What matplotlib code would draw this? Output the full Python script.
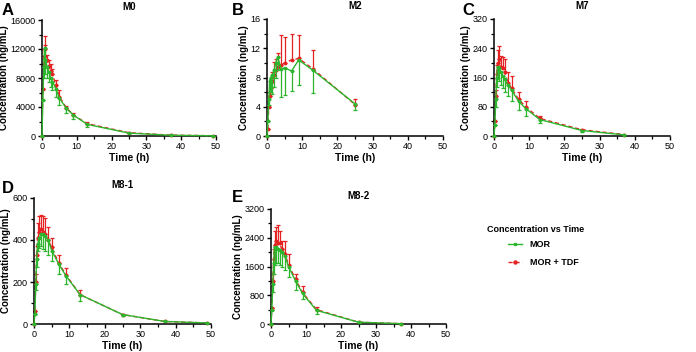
import matplotlib
matplotlib.use("Agg")
import matplotlib.pyplot as plt
from matplotlib.ticker import MultipleLocator
from matplotlib.lines import Line2D
import numpy as np

plt.rcParams['font.family'] = ['Liberation Sans', 'DejaVu Sans']

times = [0, 0.25, 0.5, 0.75, 1, 1.5, 2, 2.5, 3, 4, 5, 7, 9, 13, 25, 37, 49]

# ---- M0 ----
m0_mor = [0, 5000, 9500, 12200, 10500, 9500, 8800, 8000, 7500, 6500, 5200, 3800, 2900, 1600, 400, 100, 30]
m0_mor_sd = [0, 0, 1500, 2500, 2000, 1500, 1400, 1300, 1200, 1100, 900, 600, 500, 300, 0, 0, 0]
m0_tdf = [0, 6500, 10000, 12000, 11000, 10500, 9600, 9000, 8500, 7000, 5400, 3900, 2900, 1700, 450, 120, 40]
m0_tdf_sd = [0, 0, 1000, 1800, 1500, 700, 900, 1000, 800, 700, 900, 300, 300, 200, 0, 0, 0]

# ---- M2 ----
m2_times = [0, 0.25, 0.5, 0.75, 1, 1.5, 2, 2.5, 3, 4, 5, 7, 9, 13, 25]
m2_mor = [0, 2.0, 5.0, 7.5, 8.0, 8.3, 9.0, 10.0, 10.8, 9.2, 9.3, 8.9, 10.4, 9.0, 4.4]
m2_mor_sd = [0, 0, 0.8, 1.5, 2.0, 2.5, 2.3, 2.0, 1.8, 3.9, 3.7, 2.7, 3.4, 3.1, 0.9]
m2_tdf = [0, 1.0, 4.0, 5.5, 6.5, 7.5, 8.3, 9.0, 9.5, 9.7, 10.0, 10.4, 10.6, 9.2, 4.3]
m2_tdf_sd = [0, 0, 0, 0.5, 0.8, 1.3, 1.8, 1.5, 1.8, 4.1, 3.6, 3.5, 3.2, 2.5, 0.7]

# ---- M7 ----
m7_times = [0, 0.25, 0.5, 0.75, 1, 1.5, 2, 2.5, 3, 4, 5, 7, 9, 13, 25, 37]
m7_mor = [0, 30, 100, 160, 190, 185, 175, 165, 155, 140, 125, 95, 75, 45, 15, 3]
m7_mor_sd = [0, 0, 20, 25, 30, 35, 35, 35, 35, 30, 30, 25, 20, 10, 3, 0]
m7_tdf = [0, 40, 110, 170, 200, 210, 190, 185, 175, 145, 130, 100, 80, 48, 17, 4]
m7_tdf_sd = [0, 0, 15, 25, 35, 35, 30, 30, 35, 30, 35, 20, 15, 7, 2, 0]

# ---- M8-1 ----
m81_mor = [0, 50, 190, 310, 380, 410, 430, 430, 420, 400, 350, 285, 230, 140, 45, 12, 5]
m81_mor_sd = [0, 0, 30, 40, 30, 50, 60, 75, 70, 70, 50, 45, 40, 30, 5, 0, 0]
m81_tdf = [0, 60, 200, 330, 410, 440, 450, 440, 430, 400, 365, 290, 235, 140, 45, 12, 5]
m81_tdf_sd = [0, 0, 40, 40, 70, 75, 70, 75, 75, 60, 45, 40, 30, 20, 5, 0, 0]

# ---- M8-2 ----
m82_times = [0, 0.25, 0.5, 0.75, 1, 1.5, 2, 2.5, 3, 4, 5, 7, 9, 13, 25, 37]
m82_mor = [0, 400, 1100, 1700, 2150, 2150, 2100, 2050, 2000, 1900, 1600, 1200, 850, 380, 50, 10]
m82_mor_sd = [0, 0, 200, 300, 500, 450, 400, 400, 400, 400, 300, 250, 150, 100, 10, 0]
m82_tdf = [0, 450, 1200, 1800, 2200, 2300, 2250, 2250, 2100, 1950, 1650, 1250, 880, 400, 50, 10]
m82_tdf_sd = [0, 0, 200, 300, 400, 400, 500, 350, 200, 350, 300, 150, 170, 80, 10, 0]

titles = ["M0", "M2", "M7", "M8-1", "M8-2"]
letters = ["A", "B", "C", "D", "E"]
ymax = [16000, 16, 320, 600, 3200]
ystep = [4000, 4, 80, 200, 800]
legend_labels = ["MOR", "MOR + TDF"]
legend_title = "Concentration vs Time"

GREEN = '#2db52d'
RED = '#e52222'

fig = plt.figure(figsize=(6.96, 3.52), dpi=100)

W, H = 696.0, 352.0
boxes = [  # left, top, right, bottom in pixels
    (42, 20, 216, 136),
    (267, 19, 443, 136),
    (494, 19, 670, 136),
    (34, 198, 211, 324),
    (271, 209, 446, 324),
]
letter_pos = [(2, 3), (232, 3), (462, 3), (2, 181), (232, 190)]

datasets = [
    (times, m0_mor, m0_mor_sd, times, m0_tdf, m0_tdf_sd),
    (m2_times, m2_mor, m2_mor_sd, m2_times, m2_tdf, m2_tdf_sd),
    (m7_times, m7_mor, m7_mor_sd, m7_times, m7_tdf, m7_tdf_sd),
    (times, m81_mor, m81_mor_sd, times, m81_tdf, m81_tdf_sd),
    (m82_times, m82_mor, m82_mor_sd, m82_times, m82_tdf, m82_tdf_sd),
]

for i, (l, t, r, b) in enumerate(boxes):
    ax = fig.add_axes([l / W, 1 - b / H, (r - l) / W, (b - t) / H])
    tg, yg, sg, tr, yr, sr = datasets[i]
    n_r = len(sr)
    ax.errorbar(tr, yr, yerr=[np.zeros(n_r), sr], color=RED, lw=1.0, ls=(0, (3, 2)),
                marker='o', ms=1.8, elinewidth=0.9, capsize=1.3, capthick=0.9, zorder=2,
                clip_on=False)
    n_g = len(sg)
    ax.errorbar(tg, yg, yerr=[sg, np.zeros(n_g)], color=GREEN, lw=1.0, ls='-',
                marker='s', ms=1.4, elinewidth=0.9, capsize=1.3, capthick=0.9, zorder=3,
                clip_on=False)
    ax.set_xlim(0, 50)
    ax.set_ylim(0, ymax[i])
    ax.xaxis.set_major_locator(MultipleLocator(10))
    ax.xaxis.set_minor_locator(MultipleLocator(5))
    ax.yaxis.set_major_locator(MultipleLocator(ystep[i]))
    ax.yaxis.set_minor_locator(MultipleLocator(ystep[i] / 2))
    for s in ['top', 'right']:
        ax.spines[s].set_visible(False)
    for s in ['left', 'bottom']:
        ax.spines[s].set_linewidth(1.1)
    ax.tick_params(which='major', direction='out', length=3, width=1.0, labelsize=6.5, pad=1.5)
    ax.tick_params(which='minor', direction='out', length=2, width=0.9)
    ax.set_xlabel("Time (h)", fontsize=7.5, fontweight='bold', labelpad=1)
    ax.set_ylabel("Concentration (ng/mL)", fontsize=7, fontweight='bold', labelpad=1)
    ax.set_title(titles[i], fontsize=7, fontweight='bold', pad=7)
    lx, ly = letter_pos[i]
    fig.text(lx / W, 1 - ly / H, letters[i], fontsize=12, fontweight='bold', va='top', ha='left')

handles = [
    Line2D([], [], color=GREEN, lw=1.0, ls='-', marker='s', ms=1.4),
    Line2D([], [], color=RED, lw=1.0, ls=(0, (3, 2)), marker='o', ms=2.2),
]
fig.text(487 / W, 1 - 230 / H, legend_title, fontsize=6.5, fontweight='bold',
         va='center', ha='left')
leg = fig.legend(handles, legend_labels, loc='upper left',
                 bbox_to_anchor=(508 / W, 1 - 240 / H), frameon=False,
                 fontsize=6.5, handlelength=1.6, handletextpad=0.8,
                 labelspacing=1.0, borderaxespad=0, borderpad=0)
for txt in leg.get_texts():
    txt.set_fontweight('bold')

fig.savefig("out.png", dpi=100)
